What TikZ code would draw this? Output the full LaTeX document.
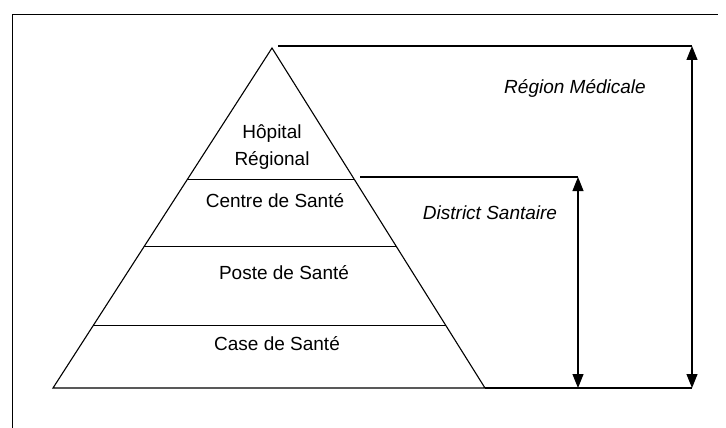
\documentclass[tikz,border=0pt]{standalone}
\usepackage{fontspec}
\setmainfont{Liberation Sans}
\usetikzlibrary{arrows.meta, calc}

\begin{document}
\begin{tikzpicture}[
  x=1pt, y=-1pt,
  >={Triangle[length=14pt, width=11pt]},
  line width=1.1pt,
  every node/.style={align=center, inner sep=0pt, font=\fontsize{19}{27}\selectfont},
  zone/.style={font=\fontsize{19}{27}\selectfont\itshape}
]
\useasboundingbox (0,0) rectangle (726,428);
\draw[line width=0.9pt] (12,428) -- (12,14) -- (718,14);

% pyramid
\coordinate (apex) at (272,48);
\coordinate (bl) at (53,388);
\coordinate (br) at (485,388);
\draw (bl) -- (apex) -- (br) -- cycle;
\draw ($(apex)!0.388!(bl)$) -- ($(apex)!0.388!(br)$);
\draw ($(apex)!0.585!(bl)$) -- ($(apex)!0.585!(br)$);
\draw ($(apex)!0.815!(bl)$) -- ($(apex)!0.815!(br)$);

\node (hopital) at (272,147) {Hôpital\\Régional};
\node (centre) at (275,201) {Centre de Santé};
\node (poste) at (284,273) {Poste de Santé};
\node (case) at (277,344) {Case de Santé};

% extents
\coordinate (rstart) at (278,46);
\coordinate (rtop) at (692,46);
\coordinate (rbot) at (692,388);
\coordinate (dstart) at (360,177);
\coordinate (dtop) at (578,177);
\coordinate (dbot) at (578,388);
\draw (rstart) -- (rtop);
\draw (dstart) -- (dtop);
\draw (br) -- (rbot);
\draw[<->] (rbot) -- (rtop);
\draw[<->] (dbot) -- (dtop);

\node[zone] (region) at (575,88) {Région Médicale};
\node[zone] (district) at (490,213) {District Santaire};
\end{tikzpicture}
\end{document}
